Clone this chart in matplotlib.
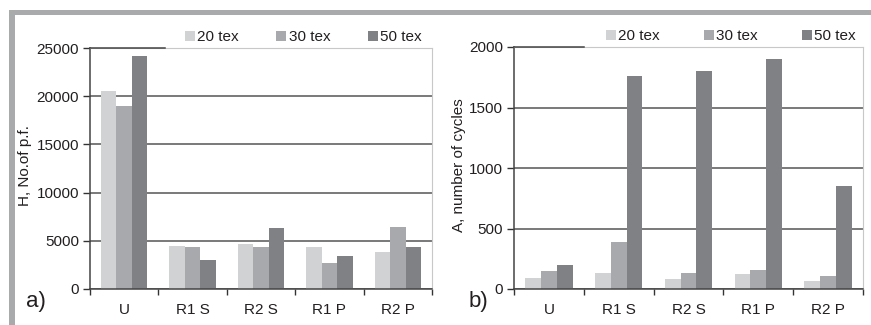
import matplotlib.pyplot as plt
import matplotlib.patches as patches
import numpy as np

plt.rcParams['font.family'] = ['Liberation Sans', 'DejaVu Sans']

# data
categories = ['U', 'R1 S', 'R2 S', 'R1 P', 'R2 P']
series = ['20 tex', '30 tex', '50 tex']
h_20 = [20500, 4450, 4650, 4350, 3800]
h_30 = [19000, 4350, 4350, 2700, 6400]
h_50 = [24200, 3000, 6300, 3400, 4350]
a_20 = [90, 135, 80, 120, 70]
a_30 = [145, 385, 135, 160, 105]
a_50 = [195, 1760, 1800, 1900, 850]

colors = ['#d1d2d4', '#a8a9ac', '#808184']
text_col = '#231f20'

fig = plt.figure(figsize=(8.71, 3.25), dpi=100)

# grey frame around the figure (top bar + left bar)
W, H = 871, 325
fig.patches.append(patches.Rectangle((9 / W, 1 - 15 / H), 1 - 9 / W, 5 / H,
                                     transform=fig.transFigure, color='#a9aaac', lw=0))
fig.patches.append(patches.Rectangle((9 / W, 0), 6 / W, 1 - 10 / H,
                                     transform=fig.transFigure, color='#a9aaac', lw=0))


def panel(rect, data, ymax, ystep, ylabel, tag, tag_x, ylab_x, dark_top, leg_x, colsp):
    ax = fig.add_axes(rect)
    x = np.arange(len(categories))
    w = 0.226
    for i, (vals, c) in enumerate(zip(data, colors)):
        ax.bar(x + (i - 1) * w, vals, width=w, color=c, label=series[i], zorder=2)
    ax.set_xlim(-0.5, 4.5)
    ax.set_ylim(0, ymax)
    ax.set_yticks(np.arange(0, ymax + 1, ystep))
    ax.yaxis.grid(True, color='#555555', lw=1.1, zorder=0)
    ax.set_axisbelow(True)
    # x ticks at category borders, labels centered
    ax.set_xticks(np.arange(-0.5, 5, 1))
    ax.set_xticklabels([])
    ax.set_xticks(x, minor=True)
    ax.set_xticklabels(categories, minor=True, fontsize=11, color=text_col)
    ax.tick_params(axis='x', which='major', length=4, width=1, color='#333333', direction='out')
    ax.tick_params(axis='x', which='minor', length=0, pad=10)
    ax.tick_params(axis='y', length=5, width=1, color='#333333', labelsize=11,
                   labelcolor=text_col, pad=3)
    for s in ['left', 'bottom']:
        ax.spines[s].set_color('#444444')
        ax.spines[s].set_linewidth(1.1)
    for s in ['top', 'right']:
        ax.spines[s].set_color('#c8c8c8')
        ax.spines[s].set_linewidth(0.8)
    ax.plot([0, dark_top], [1, 1], transform=ax.transAxes, color='#444444',
            lw=1.1, clip_on=False, zorder=5)
    fig.text(ylab_x, rect[1] + rect[3] / 2 + 0.01, ylabel, rotation=90, ha='center',
             va='center', fontsize=11, color=text_col)
    fig.text(tag_x, 1 - 302 / H, tag, ha='center', va='center', fontsize=16,
             color=text_col)
    ax.legend(loc='lower left', bbox_to_anchor=(leg_x, 0.99), ncol=3, frameon=False,
              fontsize=11, handlelength=0.65, handleheight=0.65, handletextpad=0.15,
              columnspacing=colsp, borderaxespad=0.0, labelcolor=text_col)
    return ax


panel([90 / W, 1 - 289 / H, 342 / W, 241 / H], [h_20, h_30, h_50], 25000, 5000,
      'H, No.of p.f.', 'a)', 36 / W, 25 / W, 0.22, 0.26, 2.45)
panel([514 / W, 1 - 289 / H, 349 / W, 242 / H], [a_20, a_30, a_50], 2000, 500,
      'A, number of cycles', 'b)', 478 / W, 459 / W, 0.2, 0.245, 2.9)

fig.savefig('out.png', dpi=100)
